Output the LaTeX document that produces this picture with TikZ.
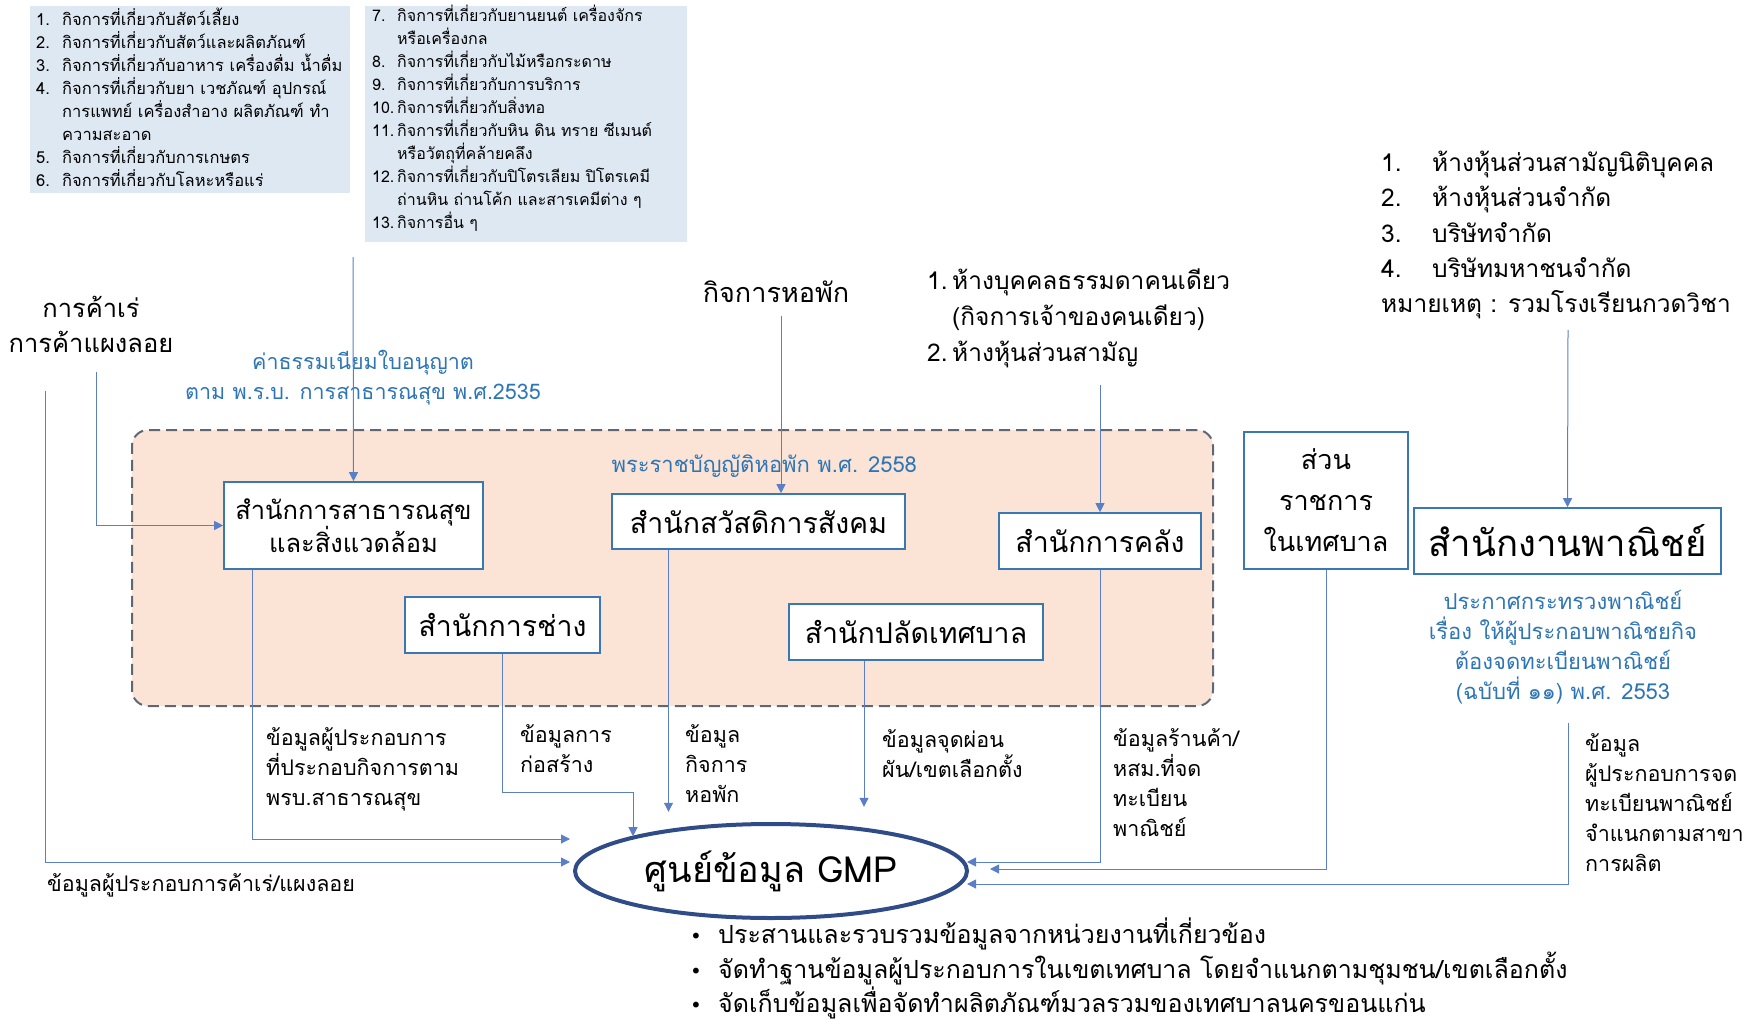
\documentclass[tikz,border=0pt]{standalone}
\usepackage{fontspec}
\setmainfont[Script=Thai]{Loma}
\newfontfamily\dotfont{DejaVu Sans}
\usetikzlibrary{arrows.meta,shapes.geometric}

\definecolor{linkblue}{HTML}{5B7FC7}
\definecolor{boxblue}{HTML}{3A78B5}
\definecolor{noteblue}{HTML}{2E75B6}
\definecolor{listfill}{HTML}{DEE8F3}
\definecolor{zonefill}{HTML}{FBE4D6}
\definecolor{zoneline}{HTML}{5F6775}
\definecolor{gmpblue}{HTML}{2F4C88}

\newcommand{\numcol}[2]{\makebox[#1][l]{#2}}
\newcommand{\taskdot}{\makebox[28pt][l]{\dotfont\fontsize{20}{20}\selectfont •}}
\newcommand{\fixskip}{\lineskiplimit=-100pt\lineskip=0pt}

\begin{document}
\begin{tikzpicture}[x=1pt,y=-1pt,
    link/.style={draw=linkblue, line width=1pt},
    arr/.style={link, -{Triangle[width=9pt,length=9pt]}},
    office/.style={rectangle, draw=boxblue, line width=1.6pt, fill=white, align=center, inner sep=0pt, font=\fontsize{28.5}{33}\selectfont},
    listbox/.style={rectangle, fill=listfill, anchor=north west, inner sep=0pt},
    listtxt/.style={anchor=north west, align=left, inner sep=0pt},
    note/.style={align=center, text=noteblue, font=\fontsize{22}{30}\selectfont},
    plain/.style={align=center, font=\fontsize{25.5}{35}\selectfont},
    datalbl/.style={align=left, anchor=west, inner sep=0pt, font=\fontsize{21.5}{30}\selectfont}
]
\useasboundingbox (0,0) rectangle (1750,1022);

% activity lists
\node[listbox, minimum width=320pt, minimum height=187pt] (actA) at (30,6) {};
\node[listtxt, font=\fontsize{16.5}{23}\selectfont\fixskip] (actAtxt) at (36,8) {%
  \numcol{26pt}{1.}กิจการที่เกี่ยวกับสัตว์เลี้ยง\\
  \numcol{26pt}{2.}กิจการที่เกี่ยวกับสัตว์และผลิตภัณฑ์\\
  \numcol{26pt}{3.}กิจการที่เกี่ยวกับอาหาร เครื่องดื่ม น้ำดื่ม\\
  \numcol{26pt}{4.}กิจการที่เกี่ยวกับยา เวชภัณฑ์ อุปกรณ์\\
  \numcol{26pt}{}การแพทย์ เครื่องสำอาง ผลิตภัณฑ์ ทำ\\
  \numcol{26pt}{}ความสะอาด\\
  \numcol{26pt}{5.}กิจการที่เกี่ยวกับการเกษตร\\
  \numcol{26pt}{6.}กิจการที่เกี่ยวกับโลหะหรือแร่};
\node[listbox, minimum width=322pt, minimum height=236pt] (actB) at (365,6) {};
\node[listtxt, font=\fontsize{16}{23}\selectfont\fixskip] (actBtxt) at (372,5) {%
  \numcol{25pt}{7.}กิจการที่เกี่ยวกับยานยนต์ เครื่องจักร\\
  \numcol{25pt}{}หรือเครื่องกล\\
  \numcol{25pt}{8.}กิจการที่เกี่ยวกับไม้หรือกระดาษ\\
  \numcol{25pt}{9.}กิจการที่เกี่ยวกับการบริการ\\
  \numcol{25pt}{10.}กิจการที่เกี่ยวกับสิ่งทอ\\
  \numcol{25pt}{11.}กิจการที่เกี่ยวกับหิน ดิน ทราย ซีเมนต์\\
  \numcol{25pt}{}หรือวัตถุที่คล้ายคลึง\\
  \numcol{25pt}{12.}กิจการที่เกี่ยวกับปิโตรเลียม ปิโตรเคมี\\
  \numcol{25pt}{}ถ่านหิน ถ่านโค้ก และสารเคมีต่าง ๆ\\
  \numcol{25pt}{13.}กิจการอื่น ๆ};

% firm types
\node[listtxt, font=\fontsize{24.5}{35.2}\selectfont\fixskip] (corp) at (1381,151) {%
  \numcol{51pt}{1.}ห้างหุ้นส่วนสามัญนิติบุคคล\\
  \numcol{51pt}{2.}ห้างหุ้นส่วนจำกัด\\
  \numcol{51pt}{3.}บริษัทจำกัด\\
  \numcol{51pt}{4.}บริษัทมหาชนจำกัด\\
  หมายเหตุ : รวมโรงเรียนกวดวิชา};
\node[listtxt, font=\fontsize{24.5}{36}\selectfont\fixskip] (sole) at (927,269) {%
  \numcol{25pt}{1.}ห้างบุคคลธรรมดาคนเดียว\\
  \numcol{25pt}{}(กิจการเจ้าของคนเดียว)\\
  \numcol{25pt}{2.}ห้างหุ้นส่วนสามัญ};
\node[plain] (hawker) at (91,324) {การค้าเร่\\การค้าแผงลอย};
\node[plain, font=\fontsize{27}{35}\selectfont] (hopak) at (776,292) {กิจการหอพัก};
\node[note, font=\fontsize{21.5}{30}\selectfont] (feeNote) at (363,378) {ค่าธรรมเนียมใบอนุญาต\\ตาม พ.ร.บ. การสาธารณสุข พ.ศ.2535};

% municipal offices
\node[rectangle, draw=zoneline, line width=2pt, dash pattern=on 11pt off 6pt, rounded corners=16pt, fill=zonefill, minimum width=1081pt, minimum height=276pt] (zone) at (672.5,568) {};
\node[note, anchor=west] (dormAct) at (608,466) {พระราชบัญญัติหอพัก พ.ศ. 2558};
\node[office, minimum width=259pt, minimum height=87pt, font=\fontsize{25.5}{33}\selectfont] (health) at (353.5,525.5) {สำนักการสาธารณสุข\\และสิ่งแวดล้อม};
\node[office, minimum width=195pt, minimum height=56pt] (works) at (502.5,625) {สำนักการช่าง};
\node[office, minimum width=293pt, minimum height=55pt] (welfare) at (758.5,521.5) {สำนักสวัสดิการสังคม};
\node[office, minimum width=202pt, minimum height=56pt] (finance) at (1100,541) {สำนักการคลัง};
\node[office, minimum width=254pt, minimum height=56pt] (clerk) at (916,632) {สำนักปลัดเทศบาล};
\node[office, minimum width=164pt, minimum height=137pt, font=\fontsize{27}{41}\selectfont] (govt) at (1326,500.5) {ส่วน\\ราชการ\\ในเทศบาล};
\node[office, minimum width=307pt, minimum height=66pt, font=\fontsize{36.5}{44}\selectfont] (commerce) at (1567.5,541) {สำนักงานพาณิชย์};
\node[note] (commNote) at (1563,647) {ประกาศกระทรวงพาณิชย์\\เรื่อง ให้ผู้ประกอบพาณิชยกิจ\\ต้องจดทะเบียนพาณิชย์\\(ฉบับที่ ๑๑) พ.ศ. 2553};

% data centre
\node[ellipse, draw=gmpblue, line width=4pt, fill=white, minimum width=392pt, minimum height=94pt, inner sep=0pt, font=\fontsize{36}{40}\selectfont] (gmp) at (771,871) {ศูนย์ข้อมูล GMP};
\node[listtxt, font=\fontsize{25}{34.5}\selectfont\fixskip] (tasks) at (690,918) {%
  \taskdot ประสานและรวบรวมข้อมูลจากหน่วยงานที่เกี่ยวข้อง\\
  \taskdot จัดทำฐานข้อมูลผู้ประกอบการในเขตเทศบาล โดยจำแนกตามชุมชน/เขตเลือกตั้ง\\
  \taskdot จัดเก็บข้อมูลเพื่อจัดทำผลิตภัณฑ์มวลรวมของเทศบาลนครขอนแก่น};

% data labels
\node[datalbl] (lblHawker) at (47,885) {ข้อมูลผู้ประกอบการค้าเร่/แผงลอย};
\node[datalbl] (lblHealth) at (266,769) {ข้อมูลผู้ประกอบการ\\ที่ประกอบกิจการตาม\\พรบ.สาธารณสุข};
\node[datalbl] (lblWorks) at (520,749) {ข้อมูลการ\\ก่อสร้าง};
\node[datalbl] (lblDorm) at (685,764) {ข้อมูล\\กิจการ\\หอพัก};
\node[datalbl] (lblClerk) at (882,754) {ข้อมูลจุดผ่อน\\ผัน/เขตเลือกตั้ง};
\node[datalbl] (lblShop) at (1113,783) {ข้อมูลร้านค้า/\\หสม.ที่จด\\ทะเบียน\\พาณิชย์};
\node[datalbl] (lblComm) at (1585,803) {ข้อมูล\\ผู้ประกอบการจด\\ทะเบียนพาณิชย์\\จำแนกตามสาขา\\การผลิต};

% connector ends
\coordinate (feeTop) at (353,257);
\coordinate (hawkTop) at (96,372);
\coordinate (farTop) at (45,391);
\coordinate (hopakTop) at (781,316);
\coordinate (soleTop) at (1100,385);
\coordinate (corpTop) at (1568,330);
\coordinate (commTop) at (1568,723);
\coordinate (worksBend) at (633,792);
\coordinate (inHealth) at (570,839);
\coordinate (inHawker) at (570,862);
\coordinate (inFinance) at (967,862);
\coordinate (inGovt) at (990,869);
\coordinate (inComm) at (967,884);

\draw[arr] (feeTop) -- (health.north);
\draw[arr] (hawkTop) |- (health.west);
\draw[arr] (hopakTop) -- (hopakTop |- welfare.north);
\draw[arr] (soleTop) -- (finance.north);
\draw[arr] (corpTop) -- (commerce.north);

\draw[arr] (farTop) |- (inHawker);
\draw[arr] ([xshift=-101pt]health.south) |- (inHealth);
\draw[arr] (works.south) |- (worksBend) -- (worksBend |- gmp.166);
\draw[arr] ([xshift=-90pt]welfare.south) -- ++(0,262);
\draw[arr] ([xshift=-52pt]clerk.south) -- ++(0,146);
\draw[arr] (finance.south) |- (inFinance);
\draw[arr] (govt.south) |- (inGovt);
\draw[arr] (commTop) |- (inComm);

\end{tikzpicture}
\end{document}
